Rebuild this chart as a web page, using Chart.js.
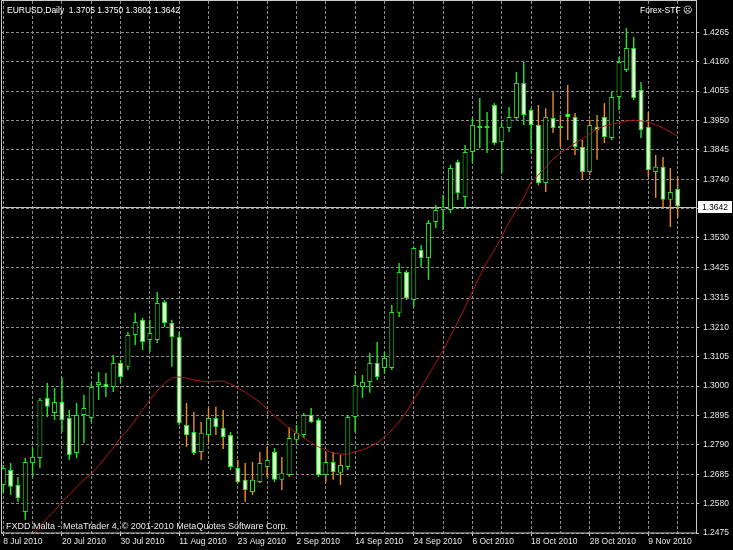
<!DOCTYPE html>
<html>
<head>
<meta charset="utf-8">
<script src="https://cdn.jsdelivr.net/npm/chart.js@4.4.0/dist/chart.umd.min.js"></script>
<style>
  html, body { margin: 0; padding: 0; background: #000; }
  #wrap { width: 733px; height: 550px; }
</style>
</head>
<body>
<div id="wrap"><canvas id="chart" width="733" height="550"></canvas></div>
<script>
// EURUSD daily, 8 Jul 2010 .. 15 Nov 2010 (one entry per bar)
const symbolName = 'EURUSD';
const period = 'Daily';
const expertName = 'Forex-STF';
const footer = 'FXDD Malta - MetaTrader 4, \u00a9 2001-2010 MetaQuotes Software Corp.';

const dateLabels = ['8 Jul 2010', '20 Jul 2010', '30 Jul 2010', '11 Aug 2010', '23 Aug 2010', '2 Sep 2010',
    '14 Sep 2010', '24 Sep 2010', '6 Oct 2010', '18 Oct 2010', '28 Oct 2010', '9 Nov 2010'];
const priceTicks = [1.2475, 1.2580, 1.2685, 1.2790, 1.2895, 1.3000, 1.3105, 1.3210, 1.3315, 1.3425,
    1.3530, 1.3635, 1.3740, 1.3845, 1.3950, 1.4055, 1.4160, 1.4265];

const opens = [1.2647, 1.2700, 1.2647, 1.2550, 1.2725, 1.2743, 1.2958, 1.2904, 1.2943, 1.2886,
    1.2761, 1.2897, 1.2886, 1.3004, 1.3008, 1.2997, 1.3083, 1.3069, 1.3183, 1.3237,
    1.3165, 1.3165, 1.3301, 1.3226, 1.3176, 1.2861, 1.2836, 1.2765, 1.2825, 1.2886,
    1.2850, 1.2825, 1.2707, 1.2665, 1.2622, 1.2657, 1.2711, 1.2765, 1.2665, 1.2682,
    1.2808, 1.2825, 1.2897, 1.2879, 1.2682, 1.2729, 1.2690, 1.2711, 1.2890, 1.2997,
    1.3015, 1.3083, 1.3065, 1.3065, 1.3262, 1.3408, 1.3308, 1.3487, 1.3458, 1.3587,
    1.3630, 1.3630, 1.3801, 1.3676, 1.3837, 1.3923, 1.3923, 1.4005, 1.3873, 1.3923,
    1.3959, 1.4084, 1.3987, 1.3934, 1.3726, 1.3959, 1.3930, 1.3973, 1.3962, 1.3855,
    1.3766, 1.3927, 1.3962, 1.3887, 1.4034, 1.4130, 1.4209, 1.4059, 1.3927, 1.3766,
    1.3784, 1.3666, 1.3705];
const highs = [1.2718, 1.2725, 1.2675, 1.2743, 1.2779, 1.2958, 1.3011, 1.2994, 1.3033, 1.2915,
    1.2940, 1.2969, 1.3011, 1.3051, 1.3047, 1.3111, 1.3094, 1.3194, 1.3262, 1.3244,
    1.3237, 1.3337, 1.3308, 1.3237, 1.3194, 1.2940, 1.2908, 1.2872, 1.2922, 1.2926,
    1.2915, 1.2836, 1.2736, 1.2725, 1.2729, 1.2765, 1.2783, 1.2779, 1.2747, 1.2854,
    1.2861, 1.2904, 1.2922, 1.2886, 1.2765, 1.2765, 1.2754, 1.2897, 1.3040, 1.3040,
    1.3119, 1.3158, 1.3122, 1.3290, 1.3440, 1.3415, 1.3497, 1.3505, 1.3594, 1.3648,
    1.3683, 1.3791, 1.3809, 1.3862, 1.3959, 1.4030, 1.3980, 1.4012, 1.3941, 1.3998,
    1.4123, 1.4159, 1.3994, 1.4005, 1.3994, 1.4052, 1.3969, 1.4077, 1.3977, 1.3880,
    1.3952, 1.3969, 1.4012, 1.4052, 1.4177, 1.4280, 1.4248, 1.4087, 1.3980, 1.3826,
    1.3819, 1.3780, 1.3750];
const lows = [1.2618, 1.2611, 1.2586, 1.2522, 1.2675, 1.2707, 1.2890, 1.2879, 1.2836, 1.2736,
    1.2743, 1.2797, 1.2872, 1.2951, 1.2961, 1.2979, 1.3015, 1.3058, 1.3147, 1.3129,
    1.3122, 1.3154, 1.3212, 1.3069, 1.2861, 1.2783, 1.2754, 1.2736, 1.2800, 1.2825,
    1.2775, 1.2700, 1.2654, 1.2586, 1.2611, 1.2654, 1.2675, 1.2657, 1.2629, 1.2675,
    1.2797, 1.2815, 1.2868, 1.2675, 1.2657, 1.2665, 1.2647, 1.2700, 1.2836, 1.2958,
    1.2976, 1.3022, 1.3047, 1.3058, 1.3247, 1.3308, 1.3283, 1.3426, 1.3380, 1.3565,
    1.3558, 1.3619, 1.3666, 1.3637, 1.3798, 1.3851, 1.3834, 1.3862, 1.3762, 1.3909,
    1.3952, 1.3934, 1.3834, 1.3719, 1.3694, 1.3905, 1.3855, 1.3880, 1.3826, 1.3737,
    1.3755, 1.3809, 1.3869, 1.3880, 1.3987, 1.4123, 1.4023, 1.3887, 1.3748, 1.3673,
    1.3637, 1.3569, 1.3602];
const closes = [1.2707, 1.2640, 1.2600, 1.2729, 1.2747, 1.2951, 1.2926, 1.2943, 1.2879, 1.2754,
    1.2897, 1.2922, 1.2997, 1.3015, 1.2997, 1.3083, 1.3033, 1.3183, 1.3229, 1.3158,
    1.3190, 1.3297, 1.3226, 1.3176, 1.2868, 1.2825, 1.2761, 1.2833, 1.2886, 1.2854,
    1.2818, 1.2711, 1.2657, 1.2629, 1.2665, 1.2725, 1.2736, 1.2665, 1.2690, 1.2815,
    1.2833, 1.2897, 1.2872, 1.2682, 1.2729, 1.2693, 1.2718, 1.2890, 1.3004, 1.3015,
    1.3083, 1.3033, 1.3101, 1.3265, 1.3408, 1.3315, 1.3494, 1.3458, 1.3583, 1.3630,
    1.3641, 1.3780, 1.3691, 1.3837, 1.3934, 1.3930, 1.3930, 1.3869, 1.3927, 1.3962,
    1.4084, 1.3969, 1.3934, 1.3726, 1.3962, 1.3923, 1.3923, 1.3962, 1.3855, 1.3766,
    1.3934, 1.3916, 1.3891, 1.4034, 1.4159, 1.4209, 1.4030, 1.3916, 1.3773, 1.3784,
    1.3666, 1.3694, 1.3642];
// red moving average
const movingAvg = [null, null, null, null, 1.2470, 1.2496, 1.2529, 1.2554, 1.2586, 1.2611,
    1.2640, 1.2665, 1.2686, 1.2715, 1.2747, 1.2779, 1.2815, 1.2843, 1.2879, 1.2915,
    1.2951, 1.2983, 1.3011, 1.3029, 1.3033, 1.3029, 1.3022, 1.3018, 1.3015, 1.3018,
    1.3018, 1.3008, 1.2993, 1.2979, 1.2961, 1.2943, 1.2918, 1.2893, 1.2872, 1.2850,
    1.2833, 1.2815, 1.2797, 1.2783, 1.2772, 1.2761, 1.2757, 1.2757, 1.2765, 1.2772,
    1.2783, 1.2797, 1.2818, 1.2843, 1.2872, 1.2908, 1.2951, 1.2993, 1.3040, 1.3083,
    1.3129, 1.3179, 1.3229, 1.3283, 1.3337, 1.3394, 1.3444, 1.3487, 1.3533, 1.3587,
    1.3630, 1.3673, 1.3730, 1.3755, 1.3783, 1.3812, 1.3834, 1.3851, 1.3869, 1.3884,
    1.3902, 1.3919, 1.3930, 1.3937, 1.3941, 1.3948, 1.3951, 1.3948, 1.3944, 1.3934,
    1.3923, 1.3909, 1.3894];
// bars whose shadows show in orange
const orangeShadowRanges = [[25, 30], [32, 36], [38, 39], [44, 46], [73, 82], [88, 92]];

const FONT = "'Liberation Sans', Arial, sans-serif";
const GREEN = '#22e622';
const ORANGE = '#e8901e';
const BEAR_FILL = '#dcffd0';
const GRID = '#8c8c8c';
const TEXT = '#e8e8e8';

const last = opens.length - 1;
const BARS_PER_LABEL = 8;

function isOrange(i) {
    return orangeShadowRanges.some(r => i >= r[0] && i <= r[1]);
}

let bodyData = opens.map((o, i) => ({x: i, y: [o, closes[i]]}));
let wickData = opens.map((o, i) => ({x: i, y: [lows[i], highs[i]]}));
let maData = movingAvg.map((v, i) => ({x: i, y: v}));

let gridBars = [];
for (let i = 0; i <= last; i += BARS_PER_LABEL / 2) gridBars.push(i);

// no extra room for half labels at the scale ends
function noPad(s) {
    s.paddingTop = 0;
    s.paddingBottom = 0;
    s.paddingLeft = 0;
    s.paddingRight = 0;
}

// price line, price box and the terminal texts
const mt4Overlay = {
    id: 'mt4Overlay',
    beforeDatasetsDraw(chart) {
        const {ctx, chartArea: a, scales: {y}} = chart;
        const py = Math.round(y.getPixelForValue(closes[last])) + 0.5;
        ctx.save();
        ctx.strokeStyle = '#c4c4c4';
        ctx.lineWidth = 1;
        ctx.beginPath();
        ctx.moveTo(a.left, py);
        ctx.lineTo(a.right, py);
        ctx.stroke();
        ctx.restore();
    },
    afterDraw(chart) {
        const {ctx, chartArea: a, scales: {y}} = chart;
        ctx.save();
        ctx.strokeStyle = '#c8c8c8';
        ctx.lineWidth = 1;
        ctx.strokeRect(a.left + 0.5, a.top - 0.5, a.right - a.left, a.bottom - a.top + 0.5);

        const py = Math.round(y.getPixelForValue(closes[last]));
        ctx.fillStyle = '#ffffff';
        ctx.fillRect(a.right + 2, py - 6, 34, 12);
        ctx.fillStyle = '#000000';
        ctx.font = '8.5px ' + FONT;
        ctx.textBaseline = 'middle';
        ctx.fillText(closes[last].toFixed(4), a.right + 6, py + 0.5);

        ctx.fillStyle = '#ffffff';
        ctx.textBaseline = 'alphabetic';
        ctx.fillText(symbolName + ',' + period + '  ' + opens[last].toFixed(4) + ' ' + highs[last].toFixed(4) +
            ' ' + lows[last].toFixed(4) + ' ' + closes[last].toFixed(4), 7, 13);
        ctx.textAlign = 'right';
        ctx.fillText(expertName + ' \u2639', a.right - 4, 13);
        ctx.textAlign = 'left';
        ctx.fillStyle = TEXT;
        ctx.font = '9px ' + FONT;
        ctx.fillText(footer, 6, a.bottom - 4);
        ctx.restore();
    }
};

let ctx = document.getElementById('chart').getContext('2d');

let myChart = new Chart(ctx, {
    type: 'bar',
    data: {
        datasets: [{
            label: 'body',
            data: bodyData,
            order: 1,
            grouped: false,
            barThickness: 5,
            borderWidth: 1,
            borderSkipped: false,
            inflateAmount: 0,
            borderColor: GREEN,
            backgroundColor: (c) => closes[c.dataIndex] >= opens[c.dataIndex] ? '#000000' : BEAR_FILL,
        }, {
            label: 'shadow',
            data: wickData,
            order: 2,
            grouped: false,
            barThickness: 1.4,
            borderWidth: 0,
            inflateAmount: 0,
            backgroundColor: (c) => isOrange(c.dataIndex) ? ORANGE : GREEN,
        }, {
            type: 'line',
            label: 'MA',
            data: maData,
            order: 0,
            borderColor: '#b01818',
            borderWidth: 1,
            pointRadius: 0,
            tension: 0,
        }]
    },
    options: {
        responsive: false,
        devicePixelRatio: 1,
        animation: false,
        layout: {padding: {left: 1, top: 1, right: 0, bottom: 0}},
        plugins: {legend: {display: false}, tooltip: {enabled: false}},
        scales: {
            x: {
                type: 'linear',
                position: 'bottom',
                offset: false,
                min: -0.31,
                max: 94.5,
                afterBuildTicks: (s) => { s.ticks = gridBars.map(v => ({value: v})); },
                afterFit: (s) => { s.height = 17; noPad(s); },
                grid: {
                    offset: false,
                    color: GRID,
                    tickLength: 3,
                    tickColor: (c) => c.tick && c.tick.value % BARS_PER_LABEL === 0 ? '#c8c8c8' : 'rgba(0,0,0,0)',
                },
                border: {display: false, dash: [3, 2]},
                ticks: {
                    autoSkip: false,
                    maxRotation: 0,
                    minRotation: 0,
                    align: 'start',
                    padding: 1,
                    color: TEXT,
                    font: {family: FONT, size: 8.5},
                    callback: (v) => v % BARS_PER_LABEL === 0 ? (dateLabels[v / BARS_PER_LABEL] || '') : '',
                },
            },
            y: {
                type: 'linear',
                position: 'right',
                min: 1.2475,
                max: 1.4377,
                afterBuildTicks: (s) => { s.ticks = priceTicks.map(v => ({value: v})); },
                afterFit: (s) => { s.width = 37; noPad(s); },
                grid: {color: GRID, tickLength: 3, tickColor: '#c8c8c8'},
                border: {display: false, dash: [3, 2]},
                ticks: {
                    padding: 4,
                    color: TEXT,
                    font: {family: FONT, size: 8.5},
                    callback: (v) => v.toFixed(4),
                },
            },
        },
    },
    plugins: [mt4Overlay],
});
</script>
</body>
</html>
